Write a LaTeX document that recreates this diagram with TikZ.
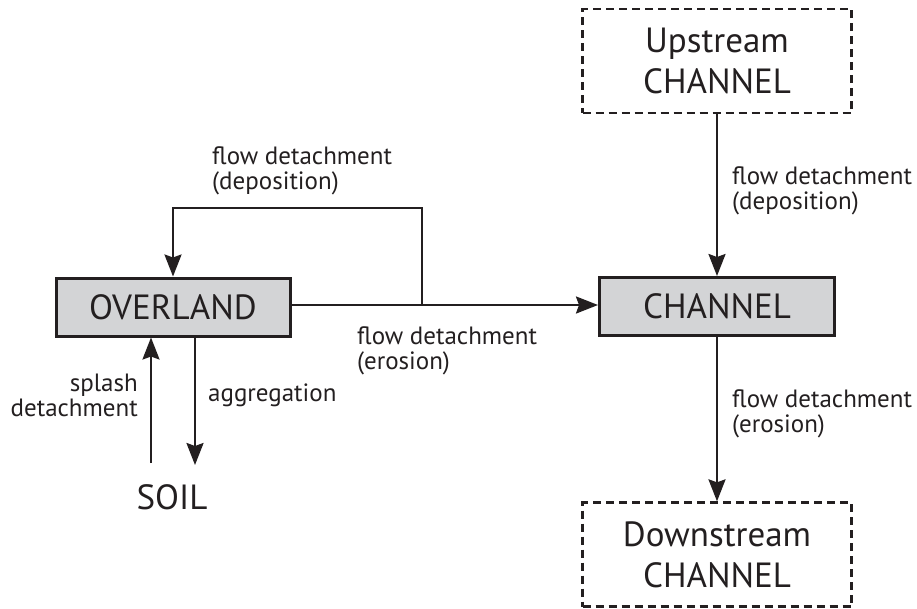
\documentclass[tikz,border=0pt]{standalone}
\usepackage{fontspec}
\setmainfont{PT Sans}
\usetikzlibrary{arrows.meta}
\definecolor{ink}{RGB}{35,31,32}
\definecolor{boxgray}{RGB}{211,212,214}
\newcommand\bigtxt{\fontsize{35}{41}\selectfont}
\newcommand\smalltxt{\fontsize{25}{25}\selectfont}
\begin{document}
\begin{tikzpicture}[x=1pt,y=-1pt,
  solidbox/.style={draw=ink, line width=3pt, fill=boxgray, minimum width=234pt, minimum height=58pt, inner sep=0pt, font=\bigtxt, text=ink},
  dashbox/.style={draw=ink, line width=2.3pt, dash pattern=on 8pt off 5pt, minimum width=269pt, minimum height=104pt, inner sep=0pt, align=center, font=\bigtxt, text=ink},
  lbl/.style={inner sep=0pt, font=\smalltxt, text=ink},
  flow/.style={draw=ink, line width=2.4pt, -{Stealth[length=22pt,width=17pt,inset=3pt]}},
  wire/.style={draw=ink, line width=2.4pt}]
\useasboundingbox (0,0) rectangle (917,608);
% boxes
\node[solidbox] (ov) at (173,307) {OVERLAND};
\node[solidbox, minimum width=235pt] (ch) at (717,306.5) {CHANNEL};
\node[dashbox] (up) at (717,61) {Upstream\\CHANNEL};
\node[dashbox] (down) at (717,554.5) {Downstream\\CHANNEL};
\node[lbl, font=\bigtxt] (soil) at (172,497) {SOIL};
% junction points
\coordinate (j) at (422,305);
\coordinate (tr) at (422,208);
\coordinate (tl) at (173,208);
\coordinate (sp) at (151,463);
\coordinate (ag) at (195,465);
% connectors
\draw[flow] (ov.east |- j) -- (ch.west |- j);
\draw[flow] (j) -- (tr) -- (tl) -- (ov.north);
\draw[flow] (up.south) -- (ch.north);
\draw[flow] (ch.south) -- (down.north);
\draw[flow] (sp) -- (sp |- ov.south);
\draw[flow] (ag |- ov.south) -- (ag);
% labels
\node[lbl, anchor=north west, align=left] (ldep) at (212,146) {flow detachment\\(deposition)};
\node[lbl, anchor=north west, align=left] (lero) at (357,326) {flow detachment\\(erosion)};
\node[lbl, anchor=north west, align=left] (lupr) at (732,166) {flow detachment\\(deposition)};
\node[lbl, anchor=north west, align=left] (ldnr) at (732,389) {flow detachment\\(erosion)};
\node[lbl, anchor=north east, align=right] (lsp) at (138,374) {splash\\detachment};
\node[lbl, anchor=north west] (lag) at (208,384) {aggregation};
\end{tikzpicture}
\end{document}
